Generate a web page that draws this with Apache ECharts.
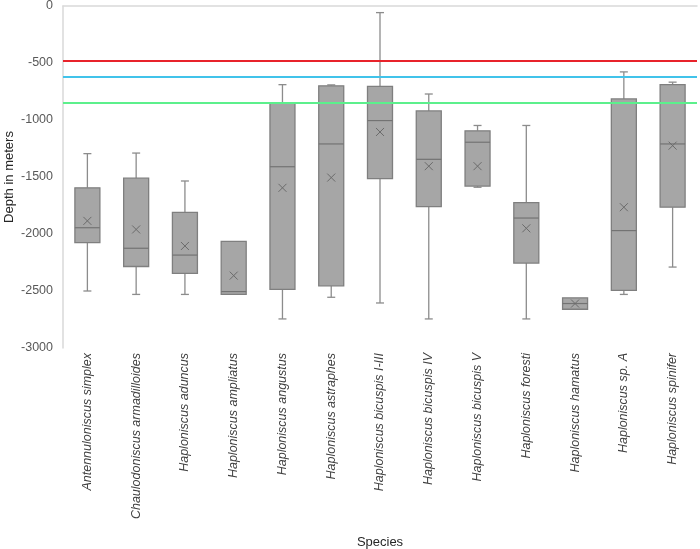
<!DOCTYPE html>
<html lang="en" style="height: 100%">
<head>
  <meta charset="utf-8">
</head>
<body style="height: 100%; margin: 0; background: #fff">
  <div id="container" style="height: 100%"></div>
  <script type="text/javascript" src="https://cdn.jsdelivr.net/npm/echarts@6/dist/echarts.min.js"></script>
  <script type="text/javascript">
    // species on the x axis
    var species = [
      'Antennuloniscus simplex', 'Chaulodoniscus armadilloides', 'Haploniscus aduncus',
      'Haploniscus ampliatus', 'Haploniscus angustus', 'Haploniscus astraphes',
      'Haploniscus bicuspis I-III', 'Haploniscus bicuspis IV', 'Haploniscus bicuspis V',
      'Haploniscus foresti', 'Haploniscus hamatus', 'Haploniscus sp. A', 'Haploniscus spinifer'
    ];
    // box statistics, depth in meters
    var whiskerMin = [-2500, -2530, -2530, -2530, -2745, -2555, -2605, -2745, -1590, -2745, -2660, -2530, -2290];
    var q1 = [-2075, -2285, -2345, -2530, -2485, -2455, -1515, -1760, -1580, -2255, -2660, -2495, -1765];
    var median = [-1945, -2125, -2185, -2505, -1410, -1210, -1005, -1345, -1195, -1860, -2610, -1970, -1210];
    var q3 = [-1595, -1510, -1810, -2065, -850, -700, -705, -920, -1095, -1725, -2560, -815, -690];
    var whiskerMax = [-1295, -1290, -1535, -2065, -690, -692, -58, -772, -1048, -1048, -2560, -578, -668];
    var means = [-1885, -1960, -2105, -2365, -1595, -1505, -1105, -1405, -1405, -1950, -2610, -1765, -1225];
    // outliers: [species index, depth]
    var outliers = [[8, -2500]];
    // horizontal reference depths
    var refDepths = [-476, -621, -846];
    var refColors = ['#e8232b', '#41c3ea', '#5cf08c'];

    var boxData = species.map(function (s, i) {
      return [i, whiskerMin[i], q1[i], median[i], q3[i], whiskerMax[i], means[i]];
    });

    var boxFill = '#a6a6a6';
    var boxLine = '#7f7f7f';

    function renderItem(params, api) {
      var i = api.value(0);
      var hw = 12.5, cap = 4, xs = 4;
      var pMin = api.coord([i, api.value(1)]);
      var pQ1 = api.coord([i, api.value(2)]);
      var pMed = api.coord([i, api.value(3)]);
      var pQ3 = api.coord([i, api.value(4)]);
      var pMax = api.coord([i, api.value(5)]);
      var pMean = api.coord([i, api.value(6)]);
      var x = pQ1[0];
      var lineStyle = { stroke: '#8c8c8c', lineWidth: 1.3 };
      var children = [];
      if (pMax[1] < pQ3[1] - 0.5) {
        children.push({ type: 'line', shape: { x1: x, y1: pMax[1], x2: x, y2: pQ3[1] }, style: lineStyle });
        children.push({ type: 'line', shape: { x1: x - cap, y1: pMax[1], x2: x + cap, y2: pMax[1] }, style: lineStyle });
      }
      if (pMin[1] > pQ1[1] + 0.5) {
        children.push({ type: 'line', shape: { x1: x, y1: pQ1[1], x2: x, y2: pMin[1] }, style: lineStyle });
        children.push({ type: 'line', shape: { x1: x - cap, y1: pMin[1], x2: x + cap, y2: pMin[1] }, style: lineStyle });
      }
      children.push({
        type: 'rect',
        shape: { x: x - hw, y: pQ3[1], width: hw * 2, height: pQ1[1] - pQ3[1] },
        style: { fill: boxFill, stroke: boxLine, lineWidth: 1.3 }
      });
      children.push({ type: 'line', shape: { x1: x - hw, y1: pMed[1], x2: x + hw, y2: pMed[1] }, style: { stroke: '#737373', lineWidth: 1.2 } });
      children.push({ type: 'line', shape: { x1: x - xs, y1: pMean[1] - xs, x2: x + xs, y2: pMean[1] + xs }, style: { stroke: '#6b6b6b', lineWidth: 1 } });
      children.push({ type: 'line', shape: { x1: x - xs, y1: pMean[1] + xs, x2: x + xs, y2: pMean[1] - xs }, style: { stroke: '#6b6b6b', lineWidth: 1 } });
      return { type: 'group', children: children };
    }

    var dom = document.getElementById('container');
    var myChart = echarts.init(dom, null, { renderer: 'canvas' });

    var option = {
      backgroundColor: '#ffffff',
      animation: false,
      textStyle: { fontFamily: 'Liberation Sans, Arial, sans-serif' },
      grid: { left: 63, right: 3, top: 6, bottom: 201, containLabel: false, outerBoundsMode: 'none' },
      xAxis: {
        type: 'category',
        data: species,
        name: 'Species',
        nameLocation: 'middle',
        nameGap: 188,
        nameMoveOverlap: false,
        nameTextStyle: { fontSize: 13, color: '#262626' },
        axisLine: { lineStyle: { color: '#d9d9d9', width: 1.5 } },
        axisTick: { show: false },
        axisLabel: {
          rotate: 90, interval: 0, margin: 5,
          fontStyle: 'italic', fontSize: 12.5, color: '#404040'
        },
        splitLine: { show: false }
      },
      yAxis: {
        type: 'value',
        min: -3000,
        max: 0,
        interval: 500,
        name: 'Depth in meters',
        nameLocation: 'middle',
        nameGap: 47,
        nameMoveOverlap: false,
        nameTextStyle: { fontSize: 13, color: '#262626' },
        axisLine: { show: true, lineStyle: { color: '#d9d9d9', width: 1.5 } },
        axisTick: { show: false },
        axisLabel: {
          fontSize: 12.5, color: '#595959', margin: 10,
          formatter: function (v) { return String(v); }
        },
        splitLine: { show: false }
      },
      series: [
        {
          type: 'custom',
          renderItem: renderItem,
          data: boxData,
          encode: { x: 0, y: [1, 2, 3, 4, 5, 6] },
          z: 3
        },
        {
          type: 'scatter',
          data: outliers,
          symbol: 'emptyCircle',
          symbolSize: 4,
          itemStyle: { color: '#ffffff', borderColor: '#7f7f7f', borderWidth: 1.2 },
          z: 4,
          markLine: {
            silent: true,
            symbol: 'none',
            label: { show: false },
            data: refDepths.map(function (d, i) {
              return { yAxis: d, lineStyle: { color: refColors[i], width: 2, type: 'solid' } };
            })
          }
        }
      ]
    };

    myChart.setOption(option);
    window.addEventListener('resize', myChart.resize);
  </script>
</body>
</html>
